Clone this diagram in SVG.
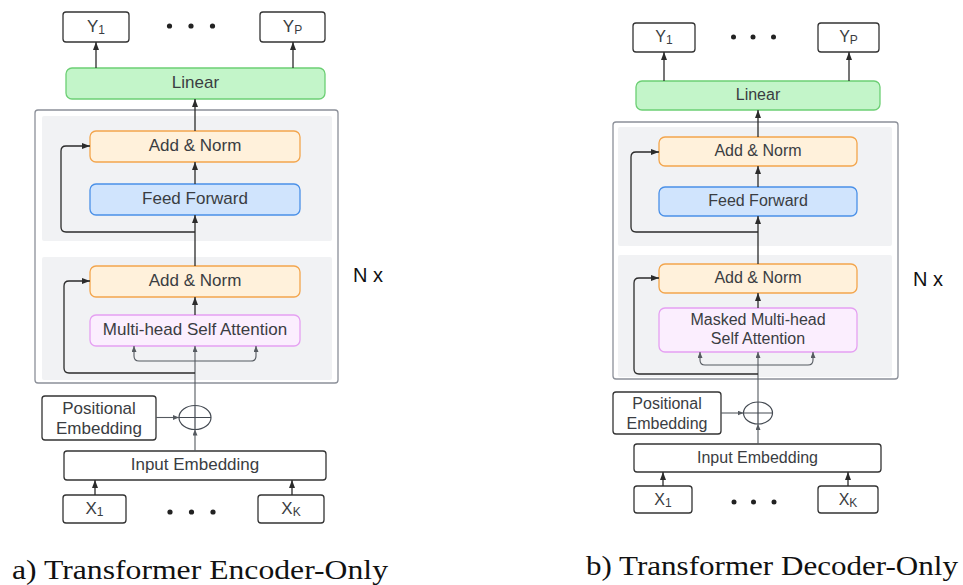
<svg xmlns="http://www.w3.org/2000/svg" width="963" height="585" viewBox="0 0 963 585">
  <style>
    .bg { fill: #ffffff; }
    .io { fill: #ffffff; stroke: #333333; stroke-width: 1.3; }
    .outer { fill: #ffffff; stroke: #8c9099; stroke-width: 1.3; }
    .panel { fill: #f1f2f4; }
    .lin { fill: #c3f5c9; stroke: #6ccf74; stroke-width: 1.3; }
    .add { fill: #fff1db; stroke: #f3a54c; stroke-width: 1.3; }
    .ff { fill: #d0e4fd; stroke: #4a90e8; stroke-width: 1.3; }
    .att { fill: #fbeefe; stroke: #e5a0f2; stroke-width: 1.3; }
    .plus { fill: #ffffff; stroke: #444a52; stroke-width: 1.2; }
    .t { font-family: "Liberation Sans", Arial, sans-serif; fill: #3a3d42; text-anchor: middle; }
    .ta { font-size: 17px; }
    .tb { font-size: 16px; }
    .sub { font-size: 12px; }
    .nx { font-family: "Liberation Sans", Arial, sans-serif; font-size: 20px; fill: #111111; }
    .cap { font-family: "Liberation Serif", "Times New Roman", serif; font-size: 27px; fill: #111111; }
    .dot { fill: #222222; }
    .wire { fill: none; stroke: #2b2b2b; stroke-width: 1.3; }
    .thin { fill: none; stroke: #555a60; stroke-width: 1.1; }
  </style>
  <defs>
    <marker id="arr" viewBox="0 0 8 6" refX="8" refY="3" markerWidth="8" markerHeight="6" markerUnits="userSpaceOnUse" orient="auto">
      <path d="M0,0 L8,3 L0,6 z" fill="#2b2b2b"/>
    </marker>
    <marker id="arrs" viewBox="0 0 6 5" refX="6" refY="2.5" markerWidth="6" markerHeight="5" markerUnits="userSpaceOnUse" orient="auto">
      <path d="M0,0 L6,2.5 L0,5 z" fill="#555a60"/>
    </marker>
  </defs>
  <rect class="bg" x="0" y="0" width="963" height="585"/>

  <!-- (a) encoder-only stack -->
  <g id="a-stack">
    <rect class="outer" x="35" y="110" width="303" height="273" rx="3"/>
    <rect class="panel" x="42" y="116" width="290" height="125" rx="2"/>
    <rect class="panel" x="42" y="257" width="290" height="123" rx="2"/>
  </g>
  <g id="a-y1">
    <rect class="io" x="63" y="12" width="66" height="30" rx="3"/>
    <text class="t ta" x="96" y="32">Y<tspan class="sub" dy="2">1</tspan></text>
  </g>
  <g id="a-yp">
    <rect class="io" x="260" y="12" width="65" height="30" rx="3"/>
    <text class="t ta" x="292.5" y="32">Y<tspan class="sub" dy="2">P</tspan></text>
  </g>
  <g id="a-ydots">
    <circle class="dot" cx="169.5" cy="26" r="2.6"/>
    <circle class="dot" cx="191" cy="26" r="2.6"/>
    <circle class="dot" cx="212.5" cy="26" r="2.6"/>
  </g>
  <g id="a-linear">
    <rect class="lin" x="66" y="68" width="259" height="31" rx="6"/>
    <text class="t ta" x="195.5" y="88">Linear</text>
  </g>
  <g id="a-addnorm2">
    <rect class="add" x="90" y="131" width="210" height="31" rx="6"/>
    <text class="t ta" x="195" y="151">Add &amp; Norm</text>
  </g>
  <g id="a-ff">
    <rect class="ff" x="90" y="184" width="210" height="31" rx="6"/>
    <text class="t ta" x="195" y="204">Feed Forward</text>
  </g>
  <g id="a-addnorm1">
    <rect class="add" x="90" y="266" width="210" height="31" rx="6"/>
    <text class="t ta" x="195" y="286">Add &amp; Norm</text>
  </g>
  <g id="a-mhsa">
    <rect class="att" x="90" y="315" width="210" height="31" rx="6"/>
    <text class="t ta" x="195" y="335">Multi-head Self Attention</text>
  </g>
  <g id="a-nx">
    <text class="nx" x="353" y="282">N x</text>
  </g>
  <g id="a-posemb">
    <rect class="io" x="42" y="396" width="114" height="44" rx="3"/>
    <text class="t ta" x="99" y="414">Positional</text>
    <text class="t ta" x="99" y="434">Embedding</text>
  </g>
  <g id="a-sum">
    <ellipse class="plus" cx="195" cy="417.5" rx="16" ry="12"/>
    <path class="plus" d="M179,417.5 H211 M195,405.5 V429.5"/>
  </g>
  <g id="a-inemb">
    <rect class="io" x="64" y="451" width="262" height="29" rx="3"/>
    <text class="t ta" x="195" y="470">Input Embedding</text>
  </g>
  <g id="a-x1">
    <rect class="io" x="63" y="495" width="63" height="28" rx="3"/>
    <text class="t ta" x="94.5" y="514">X<tspan class="sub" dy="2">1</tspan></text>
  </g>
  <g id="a-xk">
    <rect class="io" x="258" y="495" width="66" height="28" rx="3"/>
    <text class="t ta" x="291" y="514">X<tspan class="sub" dy="2">K</tspan></text>
  </g>
  <g id="a-xdots">
    <circle class="dot" cx="170" cy="512" r="2.6"/>
    <circle class="dot" cx="191.5" cy="512" r="2.6"/>
    <circle class="dot" cx="213" cy="512" r="2.6"/>
  </g>

  <!-- (b) decoder-only stack -->
  <g id="b-stack">
    <rect class="outer" x="613" y="122" width="285" height="257" rx="3"/>
    <rect class="panel" x="618" y="127" width="274" height="119" rx="2"/>
    <rect class="panel" x="618" y="255" width="274" height="122" rx="2"/>
  </g>
  <g id="b-y1">
    <rect class="io" x="633" y="23" width="62" height="29" rx="3"/>
    <text class="t tb" x="664" y="42">Y<tspan class="sub" dy="2">1</tspan></text>
  </g>
  <g id="b-yp">
    <rect class="io" x="818" y="23" width="61" height="29" rx="3"/>
    <text class="t tb" x="848.5" y="42">Y<tspan class="sub" dy="2">P</tspan></text>
  </g>
  <g id="b-ydots">
    <circle class="dot" cx="733.5" cy="37" r="2.5"/>
    <circle class="dot" cx="753" cy="37" r="2.5"/>
    <circle class="dot" cx="773.5" cy="37" r="2.5"/>
  </g>
  <g id="b-linear">
    <rect class="lin" x="636" y="81" width="244" height="29" rx="6"/>
    <text class="t tb" x="758" y="99.5">Linear</text>
  </g>
  <g id="b-addnorm2">
    <rect class="add" x="659" y="137" width="198" height="29" rx="6"/>
    <text class="t tb" x="758" y="155.5">Add &amp; Norm</text>
  </g>
  <g id="b-ff">
    <rect class="ff" x="659" y="187" width="198" height="29" rx="6"/>
    <text class="t tb" x="758" y="205.5">Feed Forward</text>
  </g>
  <g id="b-addnorm1">
    <rect class="add" x="659" y="264" width="198" height="29" rx="6"/>
    <text class="t tb" x="758" y="282.5">Add &amp; Norm</text>
  </g>
  <g id="b-mmhsa">
    <rect class="att" x="659" y="308" width="198" height="44" rx="6"/>
    <text class="t tb" x="758" y="325">Masked Multi-head</text>
    <text class="t tb" x="758" y="344">Self Attention</text>
  </g>
  <g id="b-nx">
    <text class="nx" x="913" y="286">N x</text>
  </g>
  <g id="b-posemb">
    <rect class="io" x="613" y="392" width="108" height="42" rx="3"/>
    <text class="t tb" x="667" y="409">Positional</text>
    <text class="t tb" x="667" y="429">Embedding</text>
  </g>
  <g id="b-sum">
    <ellipse class="plus" cx="758" cy="413" rx="14.5" ry="11"/>
    <path class="plus" d="M743.5,413 H772.5 M758,402 V424"/>
  </g>
  <g id="b-inemb">
    <rect class="io" x="634" y="444" width="247" height="28" rx="3"/>
    <text class="t tb" x="757.5" y="462.5">Input Embedding</text>
  </g>
  <g id="b-x1">
    <rect class="io" x="634" y="486" width="58" height="27" rx="3"/>
    <text class="t tb" x="663" y="504.5">X<tspan class="sub" dy="2">1</tspan></text>
  </g>
  <g id="b-xk">
    <rect class="io" x="818" y="486" width="60" height="27" rx="3"/>
    <text class="t tb" x="848" y="504.5">X<tspan class="sub" dy="2">K</tspan></text>
  </g>
  <g id="b-xdots">
    <circle class="dot" cx="734" cy="502" r="2.5"/>
    <circle class="dot" cx="753.5" cy="502" r="2.5"/>
    <circle class="dot" cx="774" cy="502" r="2.5"/>
  </g>

  <!-- connectors -->
  <g id="connectors">
    <!-- (a) -->
    <path class="wire" d="M96,68 V42" marker-end="url(#arr)"/>
    <path class="wire" d="M293,68 V42" marker-end="url(#arr)"/>
    <path class="wire" d="M195,131 V99" marker-end="url(#arr)"/>
    <path class="wire" d="M195,184 V162" marker-end="url(#arr)"/>
    <path class="wire" d="M195,266 V215" marker-end="url(#arr)"/>
    <path class="wire" d="M195,315 V297" marker-end="url(#arr)"/>
    <path class="thin" d="M195,405.5 V346" marker-end="url(#arrs)"/>
    <path class="thin" d="M195,361 H139 Q134,361 134,356 V346" marker-end="url(#arrs)"/>
    <path class="thin" d="M195,361 H251 Q256,361 256,356 V346" marker-end="url(#arrs)"/>
    <path class="wire" d="M195,232 H66 Q61,232 61,227 V151 Q61,146 66,146 H90" marker-end="url(#arr)"/>
    <path class="wire" d="M195,373 H69 Q64,373 64,368 V286 Q64,281 69,281 H90" marker-end="url(#arr)"/>
    <path class="thin" d="M156,417.5 H179" marker-end="url(#arrs)"/>
    <path class="thin" d="M195,451 V429.5" marker-end="url(#arrs)"/>
    <path class="wire" d="M95,495 V480" marker-end="url(#arr)"/>
    <path class="wire" d="M292,495 V480" marker-end="url(#arr)"/>
    <!-- (b) -->
    <path class="wire" d="M664,81 V52" marker-end="url(#arr)"/>
    <path class="wire" d="M849,81 V52" marker-end="url(#arr)"/>
    <path class="wire" d="M758,137 V110" marker-end="url(#arr)"/>
    <path class="wire" d="M758,187 V166" marker-end="url(#arr)"/>
    <path class="wire" d="M758,264 V216" marker-end="url(#arr)"/>
    <path class="wire" d="M758,308 V293" marker-end="url(#arr)"/>
    <path class="thin" d="M758,402 V352" marker-end="url(#arrs)"/>
    <path class="thin" d="M758,365 H705 Q700,365 700,360 V352" marker-end="url(#arrs)"/>
    <path class="thin" d="M758,365 H808 Q813,365 813,360 V352" marker-end="url(#arrs)"/>
    <path class="wire" d="M758,232 H636 Q631,232 631,227 V157 Q631,152 636,152 H659" marker-end="url(#arr)"/>
    <path class="wire" d="M758,374 H639 Q634,374 634,369 V283 Q634,278 639,278 H659" marker-end="url(#arr)"/>
    <path class="thin" d="M721,413 H743.5" marker-end="url(#arrs)"/>
    <path class="thin" d="M758,444 V424" marker-end="url(#arrs)"/>
    <path class="wire" d="M663,486 V472" marker-end="url(#arr)"/>
    <path class="wire" d="M848,486 V472" marker-end="url(#arr)"/>
  </g>

  <!-- captions -->
  <g id="captions">
    <text class="cap" x="12" y="579" textLength="376" lengthAdjust="spacingAndGlyphs">a) Transformer Encoder-Only</text>
    <text class="cap" x="586" y="575" textLength="372" lengthAdjust="spacingAndGlyphs">b) Transformer Decoder-Only</text>
  </g>
</svg>
